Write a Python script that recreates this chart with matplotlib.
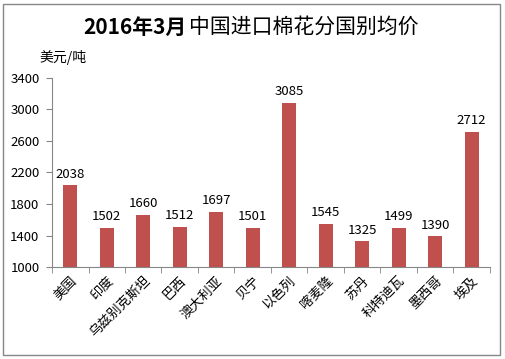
import matplotlib
matplotlib.use('Agg')
import matplotlib.pyplot as plt
from matplotlib.patches import Rectangle

plt.rcParams['font.family'] = ['Noto Sans CJK SC', 'DejaVu Sans']

# Data
countries = ['美国', '印度', '乌兹别克斯坦', '巴西', '澳大利亚', '贝宁', '以色列',
             '喀麦隆', '苏丹', '科特迪瓦', '墨西哥', '埃及']
prices = [2038, 1502, 1660, 1512, 1697, 1501, 3085, 1545, 1325, 1499, 1390, 2712]
yticks = [1000, 1400, 1800, 2200, 2600, 3000, 3400]

fig = plt.figure(figsize=(5.05, 3.59), dpi=100)
ax = fig.add_axes([0.103, 0.256, 0.867, 0.527])

x = list(range(len(countries)))
bars = ax.bar(x, prices, width=0.38, color='#C0504D', zorder=2)

for b, v in zip(bars, prices):
    ax.text(b.get_x() + b.get_width() / 2, v + 60, str(v),
            ha='center', va='bottom', fontsize=9.5)

ax.set_ylim(1000, 3400)
ax.set_yticks(yticks)
ax.set_xlim(-0.5, len(countries) - 0.5)
ax.set_xticks(x)
ax.set_xticklabels(countries, rotation=45, ha='right', rotation_mode='anchor', fontsize=9.5)
ax.set_xticks([i - 0.5 for i in range(len(countries) + 1)], minor=True)
ax.tick_params(axis='x', which='major', length=0, pad=5)
ax.tick_params(axis='x', which='minor', length=4, color='#868686')
ax.tick_params(axis='y', length=4, color='#868686', labelsize=9.5, pad=5)

for s in ['top', 'right']:
    ax.spines[s].set_visible(False)
for s in ['left', 'bottom']:
    ax.spines[s].set_color('#868686')

# title: digits bold, rest regular
t1 = fig.text(0.165, 0.925, '2016年3月', ha='left', va='center',
              fontsize=15, fontweight='bold')
fig.canvas.draw()
bb = t1.get_window_extent()
x1 = fig.transFigure.inverted().transform((bb.x1, bb.y0))[0]
fig.text(x1 + 0.004, 0.925, '中国进口棉花分国别均价', ha='left', va='center', fontsize=15)
fig.text(0.078, 0.84, '美元/吨', ha='left', va='center', fontsize=10)

# outer frame
fig.patches.append(Rectangle((0.006, 0.01), 0.984, 0.98, transform=fig.transFigure,
                             fill=False, edgecolor='#868686', linewidth=1))

fig.savefig('out.png', dpi=100)
